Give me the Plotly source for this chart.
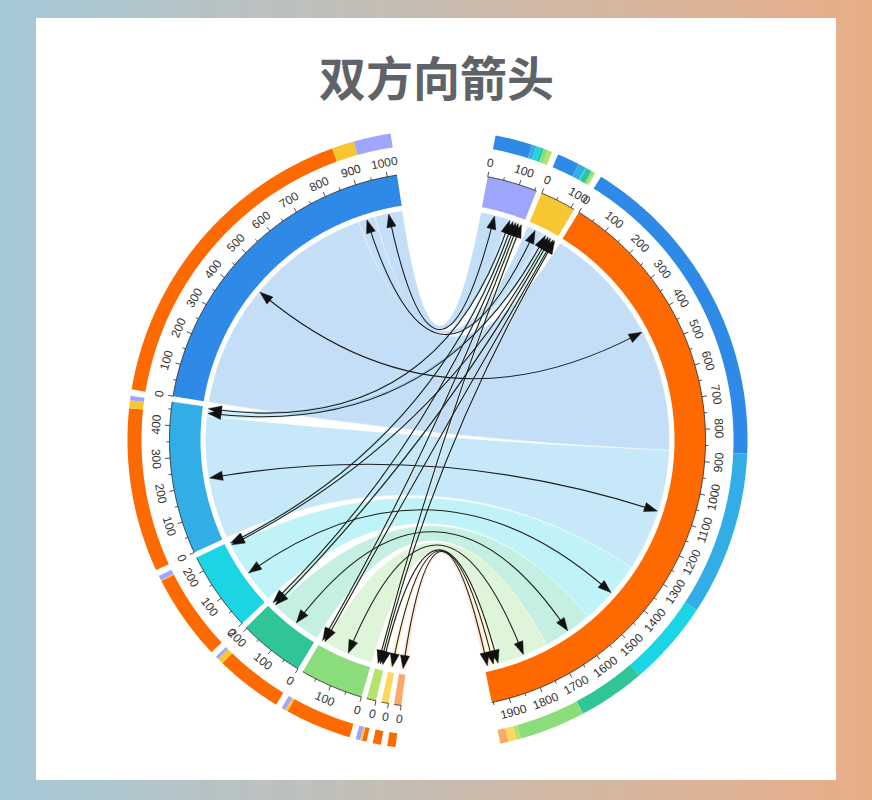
import numpy as np
import plotly.graph_objects as go

W, H = 872, 800
CX, CY = 437.5, 440.0

# ---------------- data ----------------
sources = ["蓝", "天蓝", "青", "青绿", "绿", "青柠", "浅黄", "浅橙"]
targets = ["橙", "黄", "紫"]
to_orange = [870, 440, 231, 180, 178, 12, 22, 22]
to_yellow = [60, 21, 2, 16, 7, 5, 0, 0]
to_purple = [100, 12, 13, 8, 11, 12, 0, 0]
flows = [to_orange, to_yellow, to_purple]

source_colors = ["#2e8ae6", "#33ade6", "#1bd4e4", "#2fc597", "#8bdc7b",
                 "#b5e36d", "#fdd85e", "#fba868"]
target_colors = ["#ff6a00", "#f8c630", "#9da6fa"]

TITLE = "双方向箭头"

# ---------------- geometry / style ----------------
START = 10.8
BIG_GAP = 19.5
SMALL_GAP = 1.2
R_RIB = 232
R_BAND0, R_BAND1 = 237, 268
R_RING0, R_RING1 = 296, 310
R_LABEL = 282
R_ARROW = 231


def hex_rgba(h, a):
    h = h.lstrip("#")
    return f"rgba({int(h[0:2],16)},{int(h[2:4],16)},{int(h[4:6],16)},{a})"


def pt(theta, r):
    t = np.radians(theta)
    return (CX + r * np.sin(t), CY - r * np.cos(t))


def arc(a0, a1, r, step=0.4):
    n = max(2, int(abs(a1 - a0) / step) + 2)
    return [pt(a, r) for a in np.linspace(a0, a1, n)]


def f(p):
    return f"{p[0]:.2f},{p[1]:.2f}"


def band_path(a0, a1, r0, r1):
    pts = arc(a0, a1, r1) + arc(a1, a0, r0)
    return "M " + " L ".join(f(p) for p in pts) + " Z"


# node values
src_val = [sum(flows[j][i] for j in range(3)) for i in range(len(sources))]
tgt_val = [sum(flows[j]) for j in range(3)]
total = sum(src_val) + sum(tgt_val)

order = [("T", 2), ("T", 1), ("T", 0)] + [("S", i) for i in range(7, -1, -1)]
k = (360 - 2 * BIG_GAP - (len(order) - 2) * SMALL_GAP) / total

span = {}
ang = START
for idx, (kind, i) in enumerate(order):
    v = tgt_val[i] if kind == "T" else src_val[i]
    span[(kind, i)] = (ang, ang + v * k)
    ang = ang + v * k + (BIG_GAP if idx in (2, len(order) - 1) else SMALL_GAP)

sub = {}
for j in range(3):
    cum = span[("T", j)][0]
    for i in range(len(sources)):
        v = flows[j][i]
        if v > 0:
            sub.setdefault((i, j), {})["t"] = (cum, cum + v * k)
            cum += v * k
for i in range(len(sources)):
    cum = span[("S", i)][0]
    for j in range(3):
        v = flows[j][i]
        if v > 0:
            sub.setdefault((i, j), {})["s"] = (cum, cum + v * k)
            cum += v * k

shapes = []
shapes.append(dict(type="rect", x0=36, x1=836, y0=18, y1=780,
                   fillcolor="white", line=dict(width=0), layer="above"))

# ribbons
for (i, j), d in sub.items():
    s0, s1 = d["s"]
    t0, t1 = d["t"]
    sa = arc(s0, s1, R_RIB)
    ta = arc(t0, t1, R_RIB)
    p = ("M " + " L ".join(f(q) for q in sa) +
         f" Q {CX},{CY} {f(ta[0])} L " + " L ".join(f(q) for q in ta[1:]) +
         f" Q {CX},{CY} {f(sa[0])} Z")
    shapes.append(dict(type="path", path=p, fillcolor=hex_rgba(source_colors[i], 0.28),
                       line=dict(color="rgba(255,255,255,0.7)", width=0.6), layer="above"))

# arrows
for (i, j), d in sub.items():
    sm = sum(d["s"]) / 2
    tm = sum(d["t"]) / 2
    p0 = pt(sm, R_ARROW - 4)
    p2 = pt(tm, R_ARROW - 4)
    shapes.append(dict(type="path", path=f"M {f(p0)} Q {CX},{CY} {f(p2)}",
                       line=dict(color="#1e1e1e", width=1.1), layer="above"))
for (i, j), d in sub.items():
    for a in (sum(d["s"]) / 2, sum(d["t"]) / 2):
        tip = pt(a, R_ARROW)
        bx, by = pt(a, R_ARROW - 13)
        t = np.radians(a)
        ux, uy = np.cos(t), np.sin(t)
        b1 = (bx + 4.6 * ux, by + 4.6 * uy)
        b2 = (bx - 4.6 * ux, by - 4.6 * uy)
        shapes.append(dict(type="path", path=f"M {f(tip)} L {f(b1)} L {f(b2)} Z",
                           fillcolor="#111111", fillrule="nonzero",
                           line=dict(color="#111111", width=0.5), layer="above"))

# node bands
for (kind, i), (a0, a1) in span.items():
    col = target_colors[i] if kind == "T" else source_colors[i]
    shapes.append(dict(type="path", path=band_path(a0, a1, R_BAND0, R_BAND1),
                       fillcolor=col, line=dict(width=0), layer="above"))

# outer ring
for (i, j), d in sub.items():
    a0, a1 = d["s"]
    shapes.append(dict(type="path", path=band_path(a0, a1, R_RING0, R_RING1),
                       fillcolor=target_colors[j], line=dict(width=0), layer="above"))
    a0, a1 = d["t"]
    shapes.append(dict(type="path", path=band_path(a0, a1, R_RING0, R_RING1),
                       fillcolor=source_colors[i], line=dict(width=0), layer="above"))

# axes, ticks and labels
annotations = []
for (kind, i), (a0, a1) in span.items():
    v = tgt_val[i] if kind == "T" else src_val[i]
    pa = arc(a0, a1, R_BAND1)
    p = "M " + " L ".join(f(q) for q in pa)
    for tv in range(0, int(v) + 1, 50):
        a = a0 + tv * k
        L = 5 if tv % 100 == 0 else 3
        p += f" M {f(pt(a, R_BAND1))} L {f(pt(a, R_BAND1 + L))}"
        if tv % 100 == 0:
            x, y = pt(a, R_LABEL)
            th = a % 360
            if 90 <= th < 270:
                rot = th - 180
            elif th < 90:
                rot = th
            else:
                rot = th - 360
            annotations.append(dict(x=x, y=y, text=str(tv), showarrow=False,
                                    textangle=rot, xanchor="center", yanchor="middle",
                                    font=dict(family="Arial", size=12, color="#333333")))
    shapes.append(dict(type="path", path=p, line=dict(color="#222222", width=0.8),
                       layer="above"))

annotations.append(dict(x=436, y=75, text=f"<b>{TITLE}</b>", showarrow=False,
                        xanchor="center", yanchor="middle",
                        font=dict(family="Noto Sans CJK SC", size=47, color="#5f6368")))

# background gradient
N = 120
xe = np.linspace(0, W, N + 1)
bg = go.Heatmap(z=[list(range(N))], x=xe, y=[0, H],
                colorscale=[[0, "#a5c8d7"], [0.5, "#c8bcb0"], [1, "#e8ad87"]],
                showscale=False, hoverinfo="skip")

fig = go.Figure(bg)
fig.update_layout(width=W, height=H, margin=dict(l=0, r=0, t=0, b=0),
                  paper_bgcolor="white", plot_bgcolor="white",
                  xaxis=dict(range=[0, W], visible=False, fixedrange=True),
                  yaxis=dict(range=[H, 0], visible=False, fixedrange=True),
                  shapes=shapes, annotations=annotations, showlegend=False)
fig.write_html("out.html", config={"displayModeBar": False},
               post_script="document.body.style.margin='0';document.body.style.overflow='hidden';")
